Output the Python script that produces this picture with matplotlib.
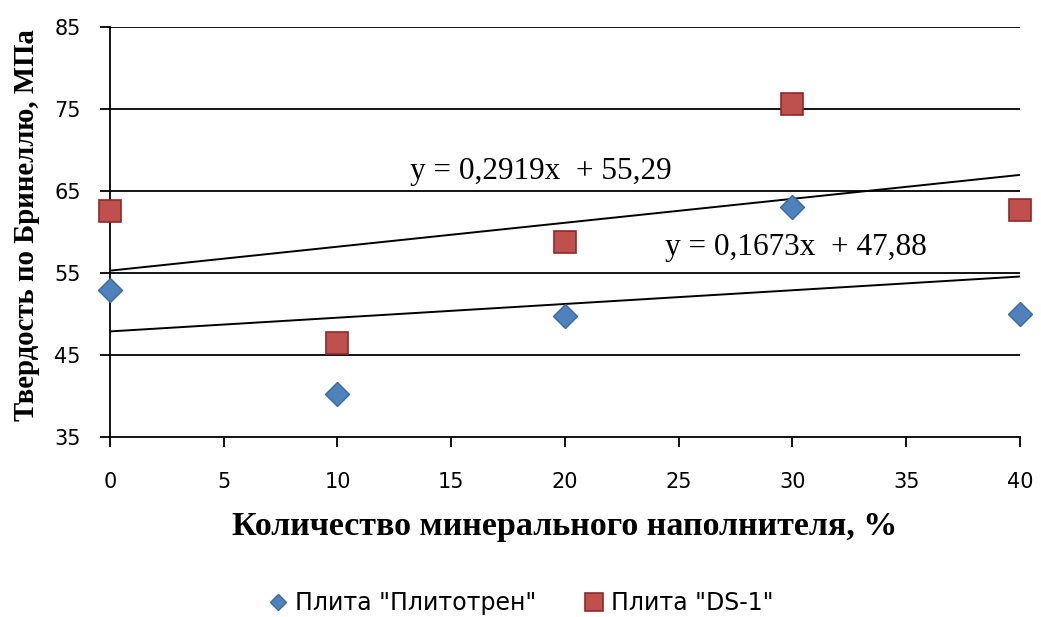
import numpy as np
import matplotlib.pyplot as plt
from matplotlib.lines import Line2D

# Filler content, % and Brinell hardness, MPa
filler = [0, 10, 20, 30, 40]
hard_plitotren = [52.9, 40.3, 49.7, 63.0, 50.0]
hard_ds1 = [62.6, 46.5, 58.8, 75.6, 62.7]

# linear trend coefficients (slope, intercept)
trend_plitotren = (0.1673, 47.88)
trend_ds1 = (0.2919, 55.29)

label_plitotren = 'Плита "Плитотрен"'
label_ds1 = 'Плита "DS-1"'

blue, blue_edge = '#4F81BD', '#3B6AA3'
red, red_edge = '#C0504D', '#8C2B29'

fig = plt.figure(figsize=(10.41, 6.17), dpi=100)
ax = fig.add_axes([0.1057, 0.2917, 0.874, 0.6645])

sans = 'DejaVu Sans'
serif = 'Liberation Serif'

for y in [45, 55, 65, 75, 85]:
    ax.axhline(y, color='black', lw=1.3, zorder=1)

xs = np.array([0, 40])
for k, b in [trend_ds1, trend_plitotren]:
    ax.plot(xs, k * xs + b, color='black', lw=1.4, zorder=2)

ax.plot(filler, hard_plitotren, ls='none', marker='D', markersize=12.7,
        color=blue, markeredgecolor=blue_edge, markeredgewidth=1,
        clip_on=False, zorder=3)
ax.plot(filler, hard_ds1, ls='none', marker='s', markersize=16,
        color=red, markeredgecolor=red_edge, markeredgewidth=1.2,
        clip_on=False, zorder=3)

ax.text(13.2, 65.6, 'y = 0,2919x  + 55,29', family=serif, fontsize=22.5,
        ha='left', va='bottom')
ax.text(24.4, 56.3, 'y = 0,1673x  + 47,88', family=serif, fontsize=22.5,
        ha='left', va='bottom')

ax.set_xlim(0, 40)
ax.set_ylim(35, 85)
ax.set_xticks(range(0, 41, 5))
ax.set_yticks(range(35, 86, 10))
for s in ['top', 'right']:
    ax.spines[s].set_visible(False)
for s in ['left', 'bottom']:
    ax.spines[s].set_linewidth(1.3)
ax.tick_params(direction='out', length=7, width=1.3, labelsize=15)
ax.tick_params(axis='x', pad=18)
ax.tick_params(axis='y', pad=14)
for lab in ax.get_xticklabels() + ax.get_yticklabels():
    lab.set_family(sans)

ax.set_xlabel('Количество минерального наполнителя, %', family=serif,
              fontweight='bold', fontsize=24.5, labelpad=14)
ax.set_ylabel('Твердость по Бринеллю, МПа', family=serif,
              fontweight='bold', fontsize=20.7)
ax.yaxis.set_label_coords(-0.077, 0.517)

handles = [
    Line2D([], [], ls='none', marker='D', markersize=8.2, color=blue,
           markeredgecolor=blue_edge, label=label_plitotren),
    Line2D([], [], ls='none', marker='s', markersize=12.5, color=red,
           markeredgecolor=red_edge, markeredgewidth=1.2, label=label_ds1),
]
fig.legend(handles=handles, loc='center', bbox_to_anchor=(0.5, 0.023),
           ncol=2, frameon=False, prop={'family': sans, 'size': 17},
           handlelength=0.9, handletextpad=0.25, columnspacing=2.0)

fig.savefig('out.png', dpi=100)
